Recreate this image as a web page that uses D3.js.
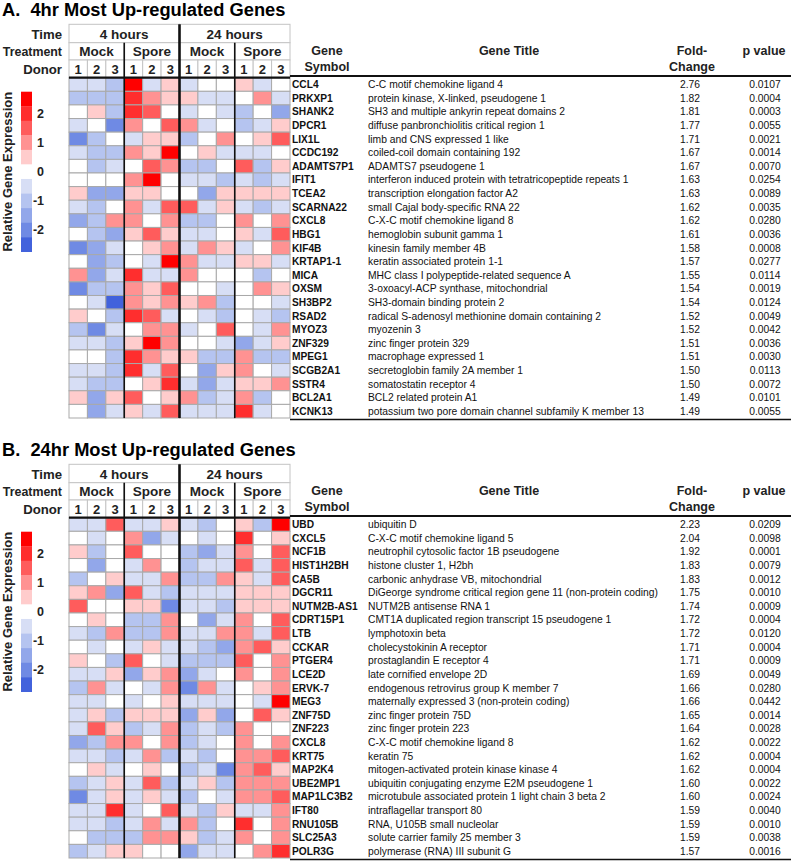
<!DOCTYPE html>
<html><head><meta charset="utf-8">
<script src="https://cdn.jsdelivr.net/npm/d3@7"></script>
<style>
html,body{margin:0;padding:0;background:#fff;}
text{font-family:"Liberation Sans",Arial,Helvetica,sans-serif;}
</style></head>
<body><svg id="chart" width="800" height="861"></svg>
<script>
// ---------- column structure ----------
const times = ["4 hours", "24 hours"];
const treatments = ["Mock", "Spore", "Mock", "Spore"];
const donors = ["1","2","3","1","2","3","1","2","3","1","2","3"];
const legendLevels = [2.5, 2, 1.5, 1, 0.5, 0, -0.5, -1, -1.5, -2, -2.5];
const legendTicks = [2, 1, 0, -1, -2];
const levelColors = ["#ff0000","#ff2e2e","#ff5c5c","#ff9292","#ffcccc","#ffffff","#d7def5","#b5c4f0","#92a7ea","#6f8ae4","#4262dc"];

// ---------- panel A: 4hr ----------
const genesA = ["CCL4","PRKXP1","SHANK2","DPCR1","LIX1L","CCDC192","ADAMTS7P1","IFIT1","TCEA2","SCARNA22","CXCL8","HBG1","KIF4B","KRTAP1-1","MICA","OXSM","SH3BP2","RSAD2","MYOZ3","ZNF329","MPEG1","SCGB2A1","SSTR4","BCL2A1","KCNK13"];
const titlesA = ["C-C motif chemokine ligand 4","protein kinase, X-linked, pseudogene 1","SH3 and multiple ankyrin repeat domains 2","diffuse panbronchiolitis critical region 1","limb and CNS expressed 1 like","coiled-coil domain containing 192","ADAMTS7 pseudogene 1","interferon induced protein with tetratricopeptide repeats 1","transcription elongation factor A2","small Cajal body-specific RNA 22","C-X-C motif chemokine ligand 8","hemoglobin subunit gamma 1","kinesin family member 4B","keratin associated protein 1-1","MHC class I polypeptide-related sequence A","3-oxoacyl-ACP synthase, mitochondrial","SH3-domain binding protein 2","radical S-adenosyl methionine domain containing 2","myozenin 3","zinc finger protein 329","macrophage expressed 1","secretoglobin family 2A member 1","somatostatin receptor 4","BCL2 related protein A1","potassium two pore domain channel subfamily K member 13"];
const foldA = ["2.76","1.82","1.81","1.77","1.71","1.67","1.67","1.63","1.63","1.62","1.62","1.61","1.58","1.57","1.55","1.54","1.54","1.52","1.52","1.51","1.51","1.50","1.50","1.49","1.49"];
const pA = ["0.0107","0.0004","0.0003","0.0055","0.0021","0.0014","0.0070","0.0254","0.0089","0.0035","0.0280","0.0036","0.0008","0.0277","0.0114","0.0019","0.0124","0.0049","0.0042","0.0036","0.0030","0.0113","0.0072","0.0101","0.0055"];
const exprA = [
 [-0.5,-0.5,-1,2.5,-0.5,0.5,-0.5,0,0,0.5,-0.5,0],
 [-1,-1,-1,2,1,0.5,0.5,-0.5,-0.5,0,1,-0.5],
 [0,0.5,-1,2,1.5,0,-0.5,0,-0.5,-1,0,-1.5],
 [-0.5,0,-2,1,0,1.5,1,-0.5,0,-1,-0.5,0.5],
 [-2,-1,0,-0.5,0.5,0.5,-1,0,1,0,0.5,1.5],
 [-0.5,-1,-1,1,0.5,2.5,0,0.5,-0.5,-0.5,-0.5,0],
 [0,-1,-0.5,0,1.5,1,-1,-1,0,1.5,-1,0.5],
 [0,0,0,1,2.5,0,-0.5,-0.5,-1,-0.5,-1,-0.5],
 [0.5,-1.5,-1.5,0.5,0.5,0,0,-1.5,0.5,0.5,0.5,0.5],
 [-0.5,-1,0,1,-0.5,1.5,1.5,-0.5,0.5,-0.5,-1,-0.5],
 [-1.5,-1,1,1,0,1,-1,-1,0,1,0,1],
 [0,-1,-1.5,0.5,1.5,0.5,-0.5,-0.5,0,0.5,-0.5,1.5],
 [-2,-1.5,-0.5,0,0.5,1,-0.5,1,0.5,-0.5,0,1],
 [0,-1.5,-1,0,-0.5,2.5,1,-0.5,-0.5,0.5,0.5,-0.5],
 [1,-1.5,-0.5,2,-0.5,-0.5,1,0,0,0,-1,0],
 [-2,-1,-1,1,0.5,1.5,0,0,-0.5,0,1,0.5],
 [0,-0.5,-2.5,1,0.5,1,0.5,1,-1,0,0,-0.5],
 [0.5,0,-1,2,1.5,-0.5,0,-0.5,-1,0,-0.5,-1],
 [-1,-2,-0.5,0,1,1,-0.5,0,1.5,0,-0.5,1],
 [-0.5,-0.5,-1,0.5,2.5,1,0,0,-0.5,-1.5,-0.5,0.5],
 [0,0,-1,2,1,0.5,0.5,-1,-1,1,-1,-1],
 [-0.5,-0.5,-1,2,-0.5,1.5,0,-1.5,0.5,1,0,-0.5],
 [-0.5,-1,-1,0,0.5,2,-0.5,-1.5,-0.5,0.5,0.5,1],
 [0.5,-1.5,0.5,1.5,0,0.5,1,-1,-0.5,1,-1,0],
 [0,-1.5,-0.5,0.5,-0.5,1.5,-0.5,-0.5,-0.5,2,-0.5,0]
];

// ---------- panel B: 24hr ----------
const genesB = ["UBD","CXCL5","NCF1B","HIST1H2BH","CA5B","DGCR11","NUTM2B-AS1","CDRT15P1","LTB","CCKAR","PTGER4","LCE2D","ERVK-7","MEG3","ZNF75D","ZNF223","CXCL8","KRT75","MAP2K4","UBE2MP1","MAP1LC3B2","IFT80","RNU105B","SLC25A3","POLR3G"];
const titlesB = ["ubiquitin D","C-X-C motif chemokine ligand 5","neutrophil cytosolic factor 1B pseudogene","histone cluster 1, H2bh","carbonic anhydrase VB, mitochondrial","DiGeorge syndrome critical region gene 11 (non-protein coding)","NUTM2B antisense RNA 1","CMT1A duplicated region transcript 15 pseudogene 1","lymphotoxin beta","cholecystokinin A receptor","prostaglandin E receptor 4","late cornified envelope 2D","endogenous retrovirus group K member 7","maternally expressed 3 (non-protein coding)","zinc finger protein 75D","zinc finger protein 223","C-X-C motif chemokine ligand 8","keratin 75","mitogen-activated protein kinase kinase 4","ubiquitin conjugating enzyme E2M pseudogene 1","microtubule associated protein 1 light chain 3 beta 2","intraflagellar transport 80","RNA, U105B small nucleolar","solute carrier family 25 member 3","polymerase (RNA) III subunit G"];
const foldB = ["2.23","2.04","1.92","1.83","1.83","1.75","1.74","1.72","1.72","1.71","1.71","1.69","1.66","1.66","1.65","1.64","1.62","1.62","1.62","1.60","1.60","1.59","1.59","1.59","1.57"];
const pB = ["0.0209","0.0098","0.0001","0.0079","0.0012","0.0010","0.0009","0.0004","0.0120","0.0004","0.0009","0.0049","0.0280","0.0442","0.0014","0.0028","0.0022","0.0004","0.0004","0.0022","0.0024","0.0040","0.0010","0.0038","0.0016"];
const exprB = [
 [-0.5,-0.5,1.5,-0.5,-0.5,0.5,-0.5,-1,0,0.5,-1,2.5],
 [0,-0.5,0,1,-1.5,-0.5,0,-0.5,0,2,0,0.5],
 [0.5,-1,0,1.5,0,0,-1,-1.5,-0.5,1,0,1.5],
 [0,-1.5,0,-0.5,1,0,-1,-0.5,-0.5,1.5,-0.5,1.5],
 [-1,0,0.5,-0.5,-0.5,1,-1,-1,1,0.5,-0.5,1.5],
 [0.5,1,-1.5,1.5,-0.5,-1,-0.5,-0.5,-0.5,0.5,0.5,0.5],
 [1.5,0,0,0.5,0.5,-2,-0.5,-0.5,-1,0.5,0.5,0.5],
 [0,0.5,0,-1,-1,1,0,-1.5,-0.5,1,0,1.5],
 [-0.5,-1,1,-1,-1,1,-0.5,-0.5,1,1,-0.5,1.5],
 [0,-0.5,0,-0.5,0.5,-0.5,-0.5,-1,-1.5,1,1.5,0.5],
 [0.5,0,-1,1.5,0,-0.5,-1,-1,-1,1.5,0,1],
 [-0.5,-0.5,0.5,-1.5,0.5,1,-1.5,-0.5,0,1,0,1],
 [-1,1,-0.5,0,-0.5,1,-2,1,-0.5,0,0.5,1],
 [-0.5,-0.5,0,-0.5,0,0.5,-0.5,-0.5,-0.5,0,-0.5,2.5],
 [-0.5,0.5,-1,0.5,0.5,0.5,-1.5,0.5,-1.5,0,1.5,0.5],
 [-0.5,1.5,0.5,-1,-0.5,1,-1,-0.5,-1,1,0,0],
 [-1.5,-1,1,1,0,1,-1,-0.5,0,1,0,1],
 [-0.5,-0.5,-1,-0.5,1,-1,-0.5,-1,0,1,1,1.5],
 [0,0.5,-0.5,0,0.5,0,-1,-0.5,-2,1,1.5,0.5],
 [-1,-0.5,0.5,-0.5,1.5,-1,-0.5,0.5,-1,1,1,1],
 [-2,-0.5,0.5,-0.5,0.5,-0.5,-1,0,-0.5,1,1,1.5],
 [-0.5,-0.5,2,-0.5,0,1.5,-0.5,-1,0.5,-0.5,-0.5,1],
 [-0.5,-0.5,-1,-0.5,1,-0.5,1,-1,0,2,0,1],
 [0,-1,-1,-1,1,1,0.5,-1,-0.5,1,0,1],
 [-1,-0.5,0.5,0.5,0,0,-1.5,-0.5,-0.5,0,1,2]
];

const svg = d3.select("#chart");
const color = d3.scaleOrdinal().domain(legendLevels).range(levelColors);

function panel(dy, title, genes, titles, fold, pv, expr) {
  const g = svg.append("g").attr("transform", `translate(0,${dy})`);
  const x = d3.scaleBand().domain(d3.range(12)).range([69, 290]);
  const y = d3.scaleBand().domain(d3.range(genes.length)).range([77.7, 418]);
  const hTime = [24.3, 42.7], hTreat = [42.7, 60], hDonor = [60, 77.7];

  g.append("text").attr("x", 2).attr("y", 16).style("white-space", "pre")
    .attr("font-size", 18.3).attr("font-weight", "bold").text(title);

  // header boxes
  const hdr = g.append("g").attr("fill", "#fff").attr("stroke", "#c4c4c4").attr("stroke-width", 1);
  times.forEach((t, i) => {
    hdr.append("rect").attr("x", x(i*6)).attr("y", hTime[0]).attr("width", x.bandwidth()*6).attr("height", hTime[1]-hTime[0]);
  });
  treatments.forEach((t, i) => {
    hdr.append("rect").attr("x", x(i*3)).attr("y", hTreat[0]).attr("width", x.bandwidth()*3).attr("height", hTreat[1]-hTreat[0]);
  });
  donors.forEach((d, i) => {
    hdr.append("rect").attr("x", x(i)).attr("y", hDonor[0]).attr("width", x.bandwidth()).attr("height", hDonor[1]-hDonor[0]);
  });
  const ht = g.append("g").attr("font-weight", "bold").attr("text-anchor", "middle").attr("fill", "#222");
  times.forEach((t, i) => ht.append("text").attr("x", x(i*6) + x.bandwidth()*3).attr("y", (hTime[0]+hTime[1])/2 + 5).attr("font-size", 13.5).text(t));
  treatments.forEach((t, i) => ht.append("text").attr("x", x(i*3) + x.bandwidth()*1.5).attr("y", (hTreat[0]+hTreat[1])/2 + 5).attr("font-size", 13.5).text(t));
  donors.forEach((d, i) => ht.append("text").attr("x", x(i) + x.bandwidth()/2).attr("y", (hDonor[0]+hDonor[1])/2 + 5).attr("font-size", 13).text(d));
  const rl = g.append("g").attr("font-weight", "bold").attr("text-anchor", "end").attr("font-size", 12.4).attr("fill", "#222");
  rl.append("text").attr("x", 62).attr("y", (hTime[0]+hTime[1])/2 + 5).attr("font-size", 13.2).text("Time");
  rl.append("text").attr("x", 62).attr("y", (hTreat[0]+hTreat[1])/2 + 5).text("Treatment");
  rl.append("text").attr("x", 62).attr("y", (hDonor[0]+hDonor[1])/2 + 5).attr("font-size", 13.2).text("Donor");

  // cells
  const cells = [];
  expr.forEach((row, r) => row.forEach((v, c) => cells.push({r, c, v})));
  g.append("g").selectAll("rect").data(cells).join("rect")
    .attr("x", d => x(d.c)).attr("y", d => y(d.r))
    .attr("width", x.bandwidth()).attr("height", y.bandwidth())
    .attr("fill", d => color(d.v)).attr("stroke", "#a9a9a9").attr("stroke-width", 1);

  // separator lines
  g.append("line").attr("x1", x(0)).attr("x2", x(11) + x.bandwidth()).attr("y1", hDonor[1]).attr("y2", hDonor[1])
    .attr("stroke", "#111").attr("stroke-width", 2.2);
  [3, 9].forEach(c => g.append("line").attr("x1", x(c)).attr("x2", x(c)).attr("y1", hTreat[0]).attr("y2", y.range()[1])
    .attr("stroke", "#111").attr("stroke-width", 1.6));
  g.append("line").attr("x1", x(6)).attr("x2", x(6)).attr("y1", hTime[0]).attr("y2", y.range()[1])
    .attr("stroke", "#111").attr("stroke-width", 2.6);

  // legend
  const ly = d3.scaleBand().domain(legendLevels).range([91.7, 251.7]);
  g.append("g").selectAll("rect").data(legendLevels).join("rect")
    .attr("x", 21).attr("y", d => ly(d)).attr("width", 11).attr("height", ly.bandwidth() + 0.3)
    .attr("fill", d => color(d));
  g.append("g").attr("font-weight", "bold").attr("font-size", 12.5).attr("text-anchor", "end").attr("fill", "#222")
    .selectAll("text").data(legendTicks).join("text")
    .attr("x", 44).attr("y", d => ly(d) + ly.bandwidth()/2 + 4.5).text(d => d);
  g.append("text").attr("transform", `translate(12,${(91.7+251.7)/2}) rotate(-90)`)
    .attr("text-anchor", "middle").attr("font-weight", "bold").attr("font-size", 13).attr("fill", "#222")
    .text("Relative Gene Expression");

  // table header
  const th = g.append("g").attr("font-weight", "bold").attr("font-size", 12.5).attr("text-anchor", "middle").attr("fill", "#222");
  th.append("text").attr("x", 327).attr("y", 55).text("Gene");
  th.append("text").attr("x", 327).attr("y", 71).text("Symbol");
  th.append("text").attr("x", 509).attr("y", 55).text("Gene Title");
  th.append("text").attr("x", 692).attr("y", 55).text("Fold-");
  th.append("text").attr("x", 692).attr("y", 71).text("Change");
  th.append("text").attr("x", 764).attr("y", 55).text("p value");
  g.append("line").attr("x1", 290).attr("x2", 791).attr("y1", 76).attr("y2", 76).attr("stroke", "#111").attr("stroke-width", 2);
  g.append("line").attr("x1", 290).attr("x2", 791).attr("y1", 419.5).attr("y2", 419.5).attr("stroke", "#111").attr("stroke-width", 1.6);

  // table rows
  const rows = g.append("g").attr("font-size", 10.3).attr("fill", "#111");
  const ry = i => y(i) + y.bandwidth()/2 + 3.7;
  rows.selectAll("text.sym").data(genes).join("text").attr("class", "sym")
    .attr("x", 292).attr("y", (d, i) => ry(i)).attr("font-weight", "bold").attr("font-size", 10.2).text(d => d);
  rows.selectAll("text.tit").data(titles).join("text").attr("class", "tit")
    .attr("x", 368).attr("y", (d, i) => ry(i)).text(d => d);
  rows.selectAll("text.fc").data(fold).join("text").attr("class", "fc")
    .attr("x", 690).attr("y", (d, i) => ry(i)).attr("text-anchor", "middle").text(d => d);
  rows.selectAll("text.pv").data(pv).join("text").attr("class", "pv")
    .attr("x", 765).attr("y", (d, i) => ry(i)).attr("text-anchor", "middle").text(d => d);
}

panel(0, "A.  4hr Most Up-regulated Genes", genesA, titlesA, foldA, pA, exprA);
panel(440, "B.  24hr Most Up-regulated Genes", genesB, titlesB, foldB, pB, exprB);
</script></body></html>
